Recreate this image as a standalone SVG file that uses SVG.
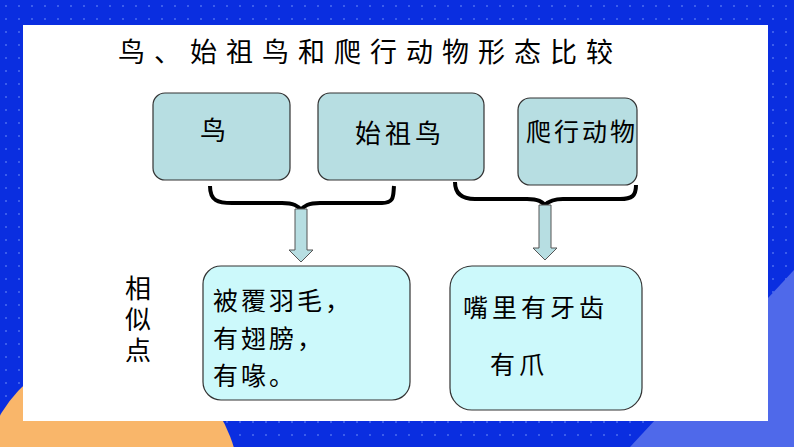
<svg xmlns="http://www.w3.org/2000/svg" width="794" height="447" viewBox="0 0 794 447">
<style>
text{font-family:"Noto Sans CJK SC","Noto Sans CJK JP",sans-serif;fill:#000}
.top{fill:#b7dee2;stroke:#333;stroke-width:1.2}
.bot{fill:#ccf9fb;stroke:#333;stroke-width:1.2}
.br{fill:none;stroke:#000;stroke-width:4}
.ar{fill:#b7dee2;stroke:#555;stroke-width:1}
</style>
<defs><pattern id="dots" width="13" height="13" patternUnits="userSpaceOnUse"><circle cx="6" cy="6" r="1" fill="#4a6cf0"/></pattern></defs>
<rect width="794" height="447" fill="#0a2ee0"/>
<rect width="794" height="447" fill="url(#dots)"/>
<polygon points="794,270 630,447 794,447" fill="#4f69ea"/>
<ellipse cx="110" cy="490" rx="130" ry="140" fill="#f9b66a"/>
<rect x="23" y="25" width="745" height="396" fill="#fff"/>
<text x="118" y="62" font-size="27" letter-spacing="9">鸟、始祖鸟和爬行动物形态比较</text>
<text x="138" y="275" font-size="26" writing-mode="tb" letter-spacing="5">相似点</text>
<g id="n1"><rect class="top" x="153" y="93" width="137" height="87" rx="12"/><text x="200" y="140" font-size="26">鸟</text></g>
<g id="n2"><rect class="top" x="318" y="93" width="166" height="87" rx="12"/><text x="355" y="143" font-size="26" letter-spacing="4">始祖鸟</text></g>
<g id="n3"><rect class="top" x="518" y="98" width="119" height="87" rx="12"/><text x="526" y="141" font-size="25" letter-spacing="3">爬行动物</text></g>
<g id="n4"><rect class="bot" x="203" y="266" width="207" height="134" rx="18"/><text x="213" y="310" font-size="25" letter-spacing="3">被覆羽毛，</text><text x="213" y="348" font-size="25" letter-spacing="3">有翅膀，</text><text x="213" y="385" font-size="25" letter-spacing="3">有喙。</text></g>
<g id="n5"><rect class="bot" x="450" y="266" width="192" height="144" rx="22"/><text x="463" y="317" font-size="25" letter-spacing="4">嘴里有牙齿</text><text x="490" y="374" font-size="25" letter-spacing="4">有爪</text></g>
<g id="connectors">
<path class="br" d="M210,186 C210,201 218,203 232,203 L282,203 C294,203 298,206 301,210 C304,206 308,203 320,203 L382,203 C395,203 393,195 394,186"/>
<path class="ar" d="M295,209 L307,209 L307,250 L313,250 L301,262 L289,250 L295,250 Z"/>
<path class="br" d="M455,182 C455,194 462,199 475,199 L527,199 C539,199 542,202 545,205 C548,202 552,199 563,199 L620,199 C632,199 636,196 636,185"/>
<path class="ar" d="M539,205 L551,205 L551,248 L557,248 L545,260 L533,248 L539,248 Z"/>
</g>
</svg>
